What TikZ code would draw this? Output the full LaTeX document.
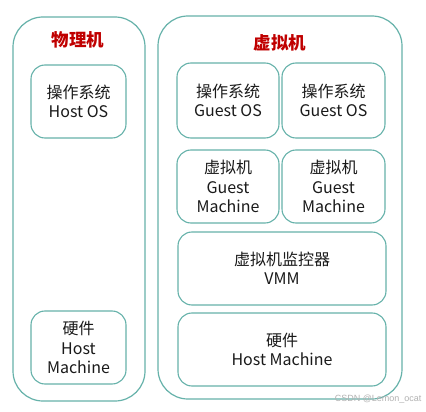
\documentclass[tikz,border=0pt]{standalone}
\usepackage{fontspec}
\setmainfont{Noto Sans CJK SC}
\newfontfamily\wmfont{Liberation Sans}
\definecolor{bordc}{HTML}{66B2AA}
\definecolor{titc}{HTML}{C00000}
\definecolor{txtc}{HTML}{1A1A1A}
\begin{document}
\begin{tikzpicture}[x=1pt,y=-1pt,
  outerbox/.style={draw=bordc,line width=1.2pt,rounded corners=30pt},
  innerbox/.style={draw=bordc,line width=1.1pt,rounded corners=14pt},
  lbl/.style={font=\fontsize{16}{19.5}\selectfont,text=txtc,align=center},
  ttl/.style={font=\fontsize{17.5}{20}\selectfont\bfseries,text=titc}]
\useasboundingbox (0,0) rectangle (426,412);
\fill[white] (0,0) rectangle (426,412);
% outer boxes
\draw[outerbox] (13,17) rectangle (145,401);
\draw[outerbox] (158,16) rectangle (402,399);
% titles
\node[ttl] (t1) at (78,40) {物理机};
\node[ttl] (t2) at (280,43) {虚拟机};
% left inner
\draw[innerbox] (31,65) rectangle (126,138);
\node[lbl] (hos) at (78.5,101.5) {操作系统\\Host OS};
\draw[innerbox] (31,311) rectangle (126,384);
\node[lbl] (hhw) at (78.5,347.5) {硬件\\Host\\Machine};
% right inner
\draw[innerbox] (177,63) rectangle (279,138);
\node[lbl] (gos1) at (228,100.5) {操作系统\\Guest OS};
\draw[innerbox] (282,63) rectangle (385,138);
\node[lbl] (gos2) at (333.5,100.5) {操作系统\\Guest OS};
\draw[innerbox] (177,150) rectangle (279,223);
\node[lbl] (gm1) at (228,186.5) {虚拟机\\Guest\\Machine};
\draw[innerbox] (282,150) rectangle (385,223);
\node[lbl] (gm2) at (333.5,186.5) {虚拟机\\Guest\\Machine};
\draw[innerbox] (178,232) rectangle (386,305);
\node[lbl] (vmm) at (282,268.5) {虚拟机监控器\\VMM};
\draw[innerbox] (178,313) rectangle (386,386);
\node[lbl] (hw) at (282,349.5) {硬件\\Host Machine};
% watermark
\node[font=\wmfont\fontsize{9}{10}\selectfont,text=black!30,anchor=east] (wm) at (425,399) {CSDN @Lemon\_ocat};
\end{tikzpicture}
\end{document}
